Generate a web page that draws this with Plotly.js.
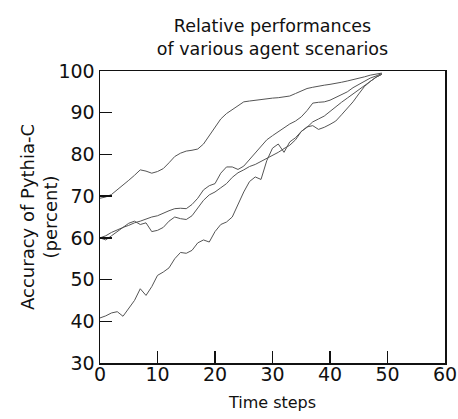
<!DOCTYPE html>
<html>
<head>
<meta charset="utf-8">
<script src="https://cdn.plot.ly/plotly-3.0.1.min.js"></script>
<style>html,body{margin:0;padding:0;background:#fff;}#chart{width:458px;height:419px;}</style>
</head>
<body>
<div id="chart"></div>
<script>
const steps = [0,1,2,3,4,5,6,7,8,9,10,11,12,13,14,15,16,17,18,19,20,21,22,23,24,25,26,27,28,29,30,31,32,33,34,35,36,37,38,39,40,41,42,43,44,45,46,47,48,49];
const scenarioA = [69.5,69.8,70.4,71.5,72.5,73.8,75,76.3,76,75.5,75.9,76.6,78,79.5,80.3,80.8,81,81.3,82.5,84.5,86.5,88.5,89.8,90.8,91.8,92.6,92.8,93,93.1,93.3,93.5,93.6,93.8,94,94.6,95.3,95.8,96.1,96.4,96.6,96.8,97,97.3,97.6,97.9,98.2,98.6,99,99.3,99.5];
const scenarioB = [60,60.5,61.3,62,62.5,63,63.6,64,64.5,65,65.3,66,66.5,67,67.1,67,68,69.5,71.5,72.5,73,75.5,77,77,76.4,77.2,78.8,80.5,82,83.5,84.5,85.5,86.5,87.3,88,89,90.5,92.3,92.5,92.6,93,93.7,94.3,95,96,96.8,97.5,98.3,98.8,99.4];
const scenarioC = [60,59.5,60.5,61.5,62.3,63.5,64,63.2,63.6,61.5,61.8,62.5,64,65,64.6,64.4,65.3,67.2,69,70.3,71,72,73,74.5,75.6,76.3,77.1,77.6,78.3,79,79.6,80.5,81.4,82.2,83.5,85.5,86.6,86.9,86,86.5,87.2,88,89.5,91,92.6,94.5,96.3,97.5,98.5,99.2];
const scenarioD = [40.8,41.3,42,42.3,41.2,43,45,47.8,46.2,48.3,51,51.8,52.8,55,56.5,56.3,57,58.8,59.5,59,61.5,63.2,63.8,65,68,71,73.5,74.6,74,78.5,81.5,82.5,80.5,83,84,85.5,86.5,87.8,88.5,89.2,90.3,91.5,92.5,93.5,94.5,95.5,96.5,97.5,98.5,99.2];
const xTicks = [0,10,20,30,40,50,60];
const yTicks = [30,40,50,60,70,80,90,100];

const series = [scenarioA, scenarioB, scenarioC, scenarioD];
const traces = series.map(s => ({
  x: steps, y: s, type: 'scatter', mode: 'lines',
  line: {color: '#555', width: 1}, showlegend: false, hoverinfo: 'skip'
}));

const font = 'DejaVu Sans, Liberation Sans, sans-serif';
const layout = {
  width: 458, height: 419,
  margin: {l: 100, r: 13, t: 71, b: 56},
  paper_bgcolor: '#fff', plot_bgcolor: '#fff',
  font: {family: font, color: '#111'},
  title: {
    text: 'Relative performances<br>of various agent scenarios',
    font: {size: 17.5, family: font, color: '#111'},
    x: 0.5, xref: 'paper', xanchor: 'center',
    y: 0.923, yref: 'container', yanchor: 'top'
  },
  xaxis: {
    range: [0, 60], tickvals: xTicks, ticktext: xTicks.map(String),
    ticks: 'inside', ticklen: 12, tickwidth: 1.5, tickcolor: '#111',
    showline: true, linecolor: '#111', linewidth: 1.5, mirror: true,
    showgrid: false, zeroline: false, ticklabelstandoff: -6,
    tickfont: {size: 19, family: font, color: '#111'},
    title: {text: 'Time steps', font: {size: 16, family: font, color: '#111'}, standoff: 12}
  },
  yaxis: {
    range: [30, 100], tickvals: yTicks, ticktext: yTicks.map(String),
    ticks: 'inside', ticklen: 12, tickwidth: 1.5, tickcolor: '#111',
    showline: true, linecolor: '#111', linewidth: 1.5, mirror: true,
    showgrid: false, zeroline: false,
    tickfont: {size: 19, family: font, color: '#111'}
  },
  annotations: [{
    text: 'Accuracy of Pythia-C<br>(percent)',
    xref: 'paper', yref: 'paper', x: -0.177, y: 0.5,
    xanchor: 'center', yanchor: 'middle', textangle: -90,
    showarrow: false, font: {size: 18, family: font, color: '#111'}
  }]
};
Plotly.newPlot('chart', traces, layout, {staticPlot: true, displayModeBar: false});
</script>
</body>
</html>
